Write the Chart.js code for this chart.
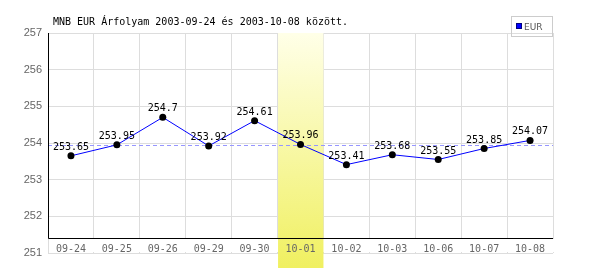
<!DOCTYPE html>
<html>
<head>
<meta charset="utf-8">
<script src="https://cdn.jsdelivr.net/npm/chart.js@4.4.1/dist/chart.umd.min.js"></script>
<style>
  html, body { margin: 0; padding: 0; background: #fff; }
</style>
</head>
<body>
<canvas id="rateChart" width="600" height="270"></canvas>
<script>
// Chart data
const labels = ["09-24", "09-25", "09-26", "09-29", "09-30", "10-01", "10-02", "10-03", "10-06", "10-07", "10-08"];
const rates = [253.65, 253.95, 254.7, 253.92, 254.61, 253.96, 253.41, 253.68, 253.55, 253.85, 254.07];
const yMin = 251;
const yMax = 257;
const average = 253.94;       // dashed reference line
const xAxisAt = 251.4;        // where the black x axis line sits
const highlightIndex = 5;     // highlighted day (10-01)
const titleText = "MNB EUR Árfolyam 2003-09-24 és 2003-10-08 között.";
const seriesName = "EUR";

const MONO = "'DejaVu Sans Mono', monospace";
const SANS = "'DejaVu Sans', sans-serif";

// Draws the band, axis lines, x labels, average line, title and legend
const decorations = {
  id: "decorations",
  beforeDatasetsDraw(chart) {
    const { ctx, chartArea: a, scales: { x, y } } = chart;
    const axisY = Math.round(y.getPixelForValue(xAxisAt)) + 0.5;
    const halfStep = (x.getPixelForValue(1) - x.getPixelForValue(0)) / 2;
    ctx.save();

    // label strip under the x axis has no vertical grid lines
    ctx.fillStyle = "#fff";
    ctx.fillRect(a.left + 1, axisY + 0.5, a.right - a.left, y.getPixelForValue(yMin) - axisY - 1.5);

    // highlighted column
    const cx = x.getPixelForValue(highlightIndex);
    const grad = ctx.createLinearGradient(0, a.top, 0, chart.height - 2);
    grad.addColorStop(0, "rgb(255,255,232)");
    grad.addColorStop(1, "rgb(240,240,96)");
    ctx.fillStyle = grad;
    ctx.fillRect(cx - halfStep + 0.5, a.top, halfStep * 2 - 0.5, chart.height - 2 - a.top);

    // average line
    const avgY = Math.round(y.getPixelForValue(average)) + 0.5;
    ctx.strokeStyle = "rgb(150,150,255)";
    ctx.lineWidth = 1;
    ctx.setLineDash([4, 3]);
    ctx.beginPath();
    ctx.moveTo(a.left, avgY);
    ctx.lineTo(a.right, avgY);
    ctx.stroke();
    ctx.setLineDash([]);

    // black axes
    ctx.strokeStyle = "#000";
    ctx.beginPath();
    ctx.moveTo(Math.round(a.left) + 0.5, a.top);
    ctx.lineTo(Math.round(a.left) + 0.5, axisY);
    ctx.lineTo(a.right, axisY);
    ctx.stroke();

    // x labels
    ctx.fillStyle = "#666";
    ctx.font = "10px " + MONO;
    ctx.textAlign = "center";
    ctx.textBaseline = "alphabetic";
    labels.forEach((lab, i) => {
      ctx.fillText(lab, x.getPixelForValue(i), axisY + 13.5);
    });

    // title
    ctx.fillStyle = "#000";
    ctx.textAlign = "left";
    ctx.fillText(titleText, 53, 24.5);

    // legend
    ctx.strokeStyle = "#ccc";
    ctx.strokeRect(511.5, 16.5, 41, 20);
    ctx.fillStyle = "#00f";
    ctx.fillRect(516, 23, 6, 6);
    ctx.strokeStyle = "#000080";
    ctx.strokeRect(516.5, 23.5, 5, 5);
    ctx.fillStyle = "#555";
    ctx.font = "9px " + SANS;
    ctx.fillText(seriesName, 524, 30);

    ctx.restore();
  },
  afterDatasetsDraw(chart) {
    const { ctx } = chart;
    const meta = chart.getDatasetMeta(0);
    ctx.save();
    ctx.fillStyle = "#000";
    ctx.font = "10px " + MONO;
    ctx.textAlign = "center";
    ctx.textBaseline = "alphabetic";
    meta.data.forEach((pt, i) => {
      ctx.fillText(String(rates[i]), pt.x, pt.y - 6);
    });
    ctx.restore();
  }
};

new Chart(document.getElementById("rateChart"), {
  type: "line",
  data: {
    labels,
    datasets: [{
      label: seriesName,
      data: rates,
      borderColor: "#0000ff",
      borderWidth: 1,
      tension: 0,
      pointRadius: 3.5,
      pointBackgroundColor: "#000",
      pointBorderColor: "#000",
      pointBorderWidth: 0
    }]
  },
  options: {
    responsive: false,
    animation: false,
    devicePixelRatio: 1,
    layout: { padding: { top: 33, right: 47, bottom: 17, left: 0 } },
    scales: {
      x: {
        type: "category",
        offset: true,
        grid: { color: "#ddd", drawTicks: false, offset: true },
        border: { display: false },
        ticks: { display: false },
        afterFit: s => { s.height = 0; }
      },
      y: {
        min: yMin,
        max: yMax,
        grid: { color: "#ddd", drawTicks: false },
        border: { display: false },
        ticks: {
          stepSize: 1,
          color: "#666",
          padding: 6,
          font: { family: "'Liberation Sans', sans-serif", size: 11 }
        },
        afterFit: s => { s.width = 48; }
      }
    },
    plugins: {
      legend: { display: false },
      title: { display: false },
      tooltip: { enabled: false }
    }
  },
  plugins: [decorations]
});
</script>
</body>
</html>
